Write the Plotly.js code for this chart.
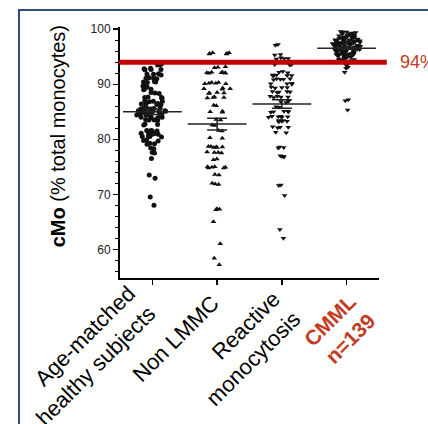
<!DOCTYPE html>
<html>
<head>
<meta charset="utf-8">
<script src="https://cdn.plot.ly/plotly-3.0.1.min.js"></script>
<style>html,body{margin:0;padding:0;background:#fff;}#chart{width:428px;height:424px;}</style>
</head>
<body>
<div id="chart"></div>
<script>
// ---- data ----
var categories = ["g1", "g2", "g3", "g4"];
var tickLabels = [
  "Age-matched<br>healthy subjects",
  "Non LMMC",
  "Reactive<br>monocytosis",
  "<b>CMML<br>n=139</b>"
];
var yTitle = "<b>cMo</b> (% total monocytes)";
var threshold = 94;
var thresholdLabel = "94%";

var healthy = [
  93.6, 93.5, 93.7,
  92.7, 92.8, 92.6, 92.7, 92.9,
  91.8, 91.9, 91.7, 91.8,
  91.1, 91.0, 91.2, 91.1,
  90.4, 90.3, 90.5, 90.4,
  89.6, 89.7, 89.5,
  89.1, 89.0, 89.2,
  88.4, 88.3, 88.5,
  87.6, 87.7, 87.5, 87.6,
  86.9, 87.0, 86.8, 86.9,
  86.4, 86.3, 86.5, 86.4, 86.3,
  85.6, 85.7, 85.5, 85.6, 85.7, 85.5,
  85.1, 85.0, 85.2, 85.1, 85.0, 85.2, 85.1, 85.0,
  84.5, 84.6, 84.4, 84.5, 84.6, 84.4, 84.5,
  84.0, 83.9, 84.1, 84.0, 83.9, 84.1,
  83.5, 83.4, 83.6, 83.5,
  82.7, 82.8, 82.6,
  81.5, 81.6, 81.4, 81.5, 81.6,
  81.0, 80.9, 81.1, 81.0, 80.9,
  80.5, 80.4, 80.6, 80.5,
  79.8, 79.7, 79.9,
  79.2, 79.1, 79.3,
  78.4, 78.3,
  77.6, 77.5,
  76.5, 73.5, 72.9, 69.5, 68.0
];

var nonLMMC = [
  95.6, 95.5, 95.7, 95.6, 95.5, 95.7,
  93.1, 93.2, 93.0,
  92.1, 92.2, 92.0, 92.1, 92.2, 92.0, 92.1,
  90.2, 90.3, 90.1, 90.2, 90.3, 90.1,
  89.2, 89.3, 89.1, 89.2,
  88.4, 88.5, 88.3, 88.4,
  87.6, 87.7, 87.5, 87.6,
  86.2, 86.1,
  85.0, 85.1, 84.9,
  83.6, 83.5,
  82.6, 82.5,
  81.6, 81.5,
  80.3, 80.2,
  78.6, 78.7, 78.5, 78.6, 78.7, 78.5,
  77.6, 77.5, 77.7, 77.6,
  76.4, 76.3,
  74.9, 75.0, 74.8, 74.9, 75.0, 74.8,
  73.6, 73.5,
  71.9, 72.0, 71.8,
  67.3, 67.4, 67.2,
  65.0, 61.0, 58.4, 57.2
];

var reactive = [
  97.1, 97.2,
  95.3, 95.4,
  94.7, 94.8, 94.6, 94.7,
  93.6, 93.7, 93.5, 93.6, 93.7,
  92.2, 92.3, 92.1,
  91.6, 91.7, 91.5, 91.6, 91.7,
  90.9, 91.0, 90.8, 90.9, 91.0,
  90.1, 90.2, 90.0, 90.1,
  89.4, 89.5, 89.3, 89.4,
  88.6, 88.7, 88.5, 88.6, 88.7,
  87.7, 87.8, 87.6, 87.7, 87.8,
  86.8, 86.9, 86.7,
  85.8, 85.9,
  85.0, 85.1, 84.9, 85.0, 85.1,
  84.1, 84.2, 84.0, 84.1, 84.2, 84.0,
  83.3, 83.4, 83.2, 83.3, 83.4,
  82.2, 82.3, 82.1, 82.2,
  81.3, 81.2,
  78.5, 78.6, 78.4,
  76.9, 77.0, 76.8, 76.9,
  71.6, 71.7,
  69.8, 63.6, 62.0
];

var cmml = [
  99.6, 99.5, 99.4, 99.5, 99.3, 99.2, 99.4, 99.1, 99.0, 99.2,
  98.9, 98.8, 98.9, 98.7, 98.6, 98.8, 98.5, 98.7, 98.4, 98.6, 98.3, 98.5,
  98.2, 98.4, 98.1, 98.3, 98.0, 98.2, 98.1, 98.0, 98.6, 98.3, 98.8, 98.1,
  97.9, 97.8, 97.7, 97.9, 97.6, 97.8, 97.5, 97.7, 97.4, 97.6, 97.3, 97.5,
  97.2, 97.4, 97.1, 97.3, 97.0, 97.2, 97.9, 97.1, 97.5, 97.0, 97.8, 97.3,
  97.6, 97.2, 97.4, 97.0, 97.7, 97.1, 97.5, 97.3,
  96.9, 96.8, 96.7, 96.9, 96.6, 96.8, 96.5, 96.7, 96.4, 96.6, 96.3, 96.5,
  96.2, 96.4, 96.1, 96.3, 96.0, 96.2, 96.8, 96.1, 96.5, 96.0, 96.7, 96.3,
  96.6, 96.4, 96.9, 96.2, 96.5, 96.1,
  95.9, 95.7, 95.8, 95.5, 95.6, 95.3, 95.4, 95.1, 95.2, 95.0, 95.8, 95.6,
  95.4, 95.2, 95.9, 95.7, 95.3, 95.5, 95.1, 95.0, 95.6, 95.4,
  94.9, 94.7, 94.8, 94.5, 94.6, 94.3, 94.4, 94.2, 94.1, 94.6, 94.0, 94.3,
  93.8, 93.6, 93.4, 93.1, 92.9, 92.2, 87.2, 87.0, 85.3
];

var groups = [healthy, nonLMMC, reactive, cmml];
var symbols = ["circle", "triangle-up", "triangle-down", "triangle-down"];
var sizes = [5, 5, 5, 5];

function mean(a){ var s=0; for (var i=0;i<a.length;i++) s+=a[i]; return s/a.length; }
function sem(a){ var m=mean(a), s=0; for (var i=0;i<a.length;i++) s+=(a[i]-m)*(a[i]-m); return Math.sqrt(s/(a.length-1))/Math.sqrt(a.length); }

var traces = [];
groups.forEach(function(g, i){
  traces.push({
    type: "box",
    x: g.map(function(){ return categories[i]; }),
    y: g,
    boxpoints: "all",
    jitter: 1,
    pointpos: 0,
    fillcolor: "rgba(0,0,0,0)",
    line: {width: 0, color: "rgba(0,0,0,0)"},
    whiskerwidth: 0,
    marker: {symbol: symbols[i], size: sizes[i], color: "#111"},
    showlegend: false,
    hoverinfo: "y"
  });
});

traces.push({
  type: "scatter",
  mode: "markers",
  x: categories,
  y: groups.map(mean),
  marker: {symbol: "line-ew", size: 42, color: "#222", line: {width: 1.5, color: "#222"}},
  error_y: {type: "data", array: groups.map(sem), visible: true, width: 10, thickness: 1.5, color: "#222"},
  showlegend: false,
  hoverinfo: "y"
});

// label block centres (paper coordinates) and styles
var labelPos = [[-0.133, -0.311], [0.216, -0.241], [0.474, -0.282], [0.846, -0.207]];
var labelFonts = [
  {size: 22, color: "#000"},
  {size: 22, color: "#000"},
  {size: 22, color: "#000"},
  {size: 21, color: "#C23B22"}
];

var annotations = tickLabels.map(function(t, i){
  return {xref: "paper", yref: "paper", x: labelPos[i][0], y: labelPos[i][1],
          xanchor: "center", yanchor: "middle", textangle: -45, align: "right",
          text: t, showarrow: false, font: labelFonts[i]};
});
annotations.push({xref: "paper", yref: "paper", x: -0.239, y: 0.565, xanchor: "center", yanchor: "middle",
  textangle: -90, text: yTitle, showarrow: false, font: {size: 20, color: "#000"}});
annotations.push({xref: "paper", yref: "y", x: 1.073, y: threshold, xanchor: "left", yanchor: "middle",
  text: thresholdLabel, showarrow: false, font: {size: 18, color: "#C23B22"}});

var layout = {
  width: 428, height: 424,
  margin: {l: 120, r: 49, t: 27, b: 146},
  paper_bgcolor: "#fff", plot_bgcolor: "#fff",
  font: {family: "Liberation Sans, Arial, sans-serif", color: "#000"},
  showlegend: false,
  boxmode: "overlay",
  boxgap: 0.3,
  xaxis: {
    type: "category",
    categoryorder: "array", categoryarray: categories,
    range: [-0.5, 3.5],
    tickvals: categories,
    showticklabels: false,
    showline: true, linecolor: "#000", linewidth: 2,
    ticks: "outside", ticklen: 5, tickwidth: 1.5, tickcolor: "#000",
    showgrid: false, zeroline: false, fixedrange: true
  },
  yaxis: {
    range: [54.8, 100.4],
    tickvals: [60, 70, 80, 90, 100],
    tickfont: {size: 12, color: "#222", family: "Liberation Sans, Arial, sans-serif"},
    showline: true, linecolor: "#000", linewidth: 2,
    ticks: "outside", ticklen: 5, tickwidth: 1.5, tickcolor: "#000",
    minor: {dtick: 2, ticks: "outside", ticklen: 3, tickwidth: 1.2, tickcolor: "#000"},
    showgrid: false, zeroline: false
  },
  shapes: [
    {type: "line", xref: "paper", yref: "y", x0: -0.004, x1: 1.03, y0: threshold, y1: threshold,
     line: {color: "#C00000", width: 5}},
    {type: "rect", xref: "paper", yref: "paper", x0: -0.39, x1: 1.4, y0: -0.7, y1: 1.068,
     line: {color: "#2E4C7E", width: 2}, fillcolor: "rgba(0,0,0,0)"}
  ],
  annotations: annotations
};

Plotly.newPlot("chart", traces, layout, {displayModeBar: false, staticPlot: true});
</script>
</body>
</html>
